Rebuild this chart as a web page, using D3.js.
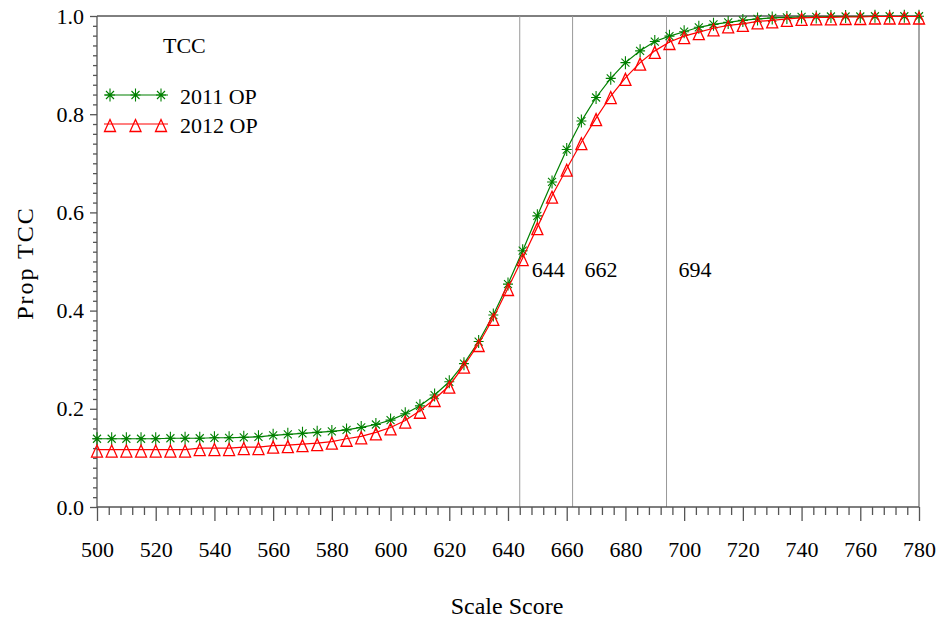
<!DOCTYPE html>
<html>
<head>
<meta charset="utf-8">
<script src="https://cdn.jsdelivr.net/npm/d3@7"></script>
<style>
  body { margin: 0; background: #fff; }
  svg text { font-family: "Liberation Serif", "Times New Roman", Times, "Nimbus Roman", "Nimbus Roman No9 L", "DejaVu Serif", "Noto Serif", serif; }
</style>
</head>
<body>
<svg id="chart" width="941" height="624"></svg>
<script>
// Scale scores (every 5 points)
const scores = d3.range(500, 781, 5);

// Proportion TCC
const op2011 = [
  0.139, 0.139, 0.139, 0.139, 0.139, 0.140, 0.140, 0.140, 0.141, 0.141,
  0.142, 0.143, 0.146, 0.148, 0.150, 0.152, 0.154, 0.157, 0.162, 0.168,
  0.177, 0.190, 0.206, 0.228, 0.255, 0.292, 0.337, 0.391, 0.454, 0.522,
  0.593, 0.662, 0.728, 0.786, 0.834, 0.873, 0.905, 0.929, 0.948, 0.959,
  0.968, 0.977, 0.983, 0.987, 0.991, 0.994, 0.996, 0.997, 0.998, 0.998,
  0.999, 0.999, 0.999, 0.9995, 0.9995, 0.9995, 0.9995
];
const op2012 = [
  0.117, 0.117, 0.117, 0.117, 0.117, 0.117, 0.117, 0.120, 0.120, 0.120,
  0.122, 0.122, 0.125, 0.126, 0.128, 0.130, 0.133, 0.139, 0.144, 0.152,
  0.162, 0.176, 0.196, 0.220, 0.247, 0.288, 0.332, 0.385, 0.446, 0.507,
  0.570, 0.634, 0.689, 0.743, 0.792, 0.837, 0.874, 0.905, 0.929, 0.947,
  0.959, 0.967, 0.975, 0.981, 0.984, 0.989, 0.991, 0.994, 0.996, 0.997,
  0.997, 0.998, 0.998, 0.999, 0.999, 0.999, 0.999
];

const cutScores = [644, 662, 694];
const xTicks = d3.range(500, 781, 20);
const yTicks = [0, 0.2, 0.4, 0.6, 0.8, 1.0];

const series = [
  { name: "2011 OP", values: op2011, color: "#008000", symbol: "star" },
  { name: "2012 OP", values: op2012, color: "#ff0000", symbol: "triangle" }
];

const svg = d3.select("#chart");

const x = d3.scaleLinear().domain([500, 780]).range([97, 919]);
const y = d3.scaleLinear().domain([0, 1]).range([507, 16]);

// frame: top black, right grey
svg.append("line")
  .attr("x1", x(500)).attr("x2", x(780))
  .attr("y1", y(1)).attr("y2", y(1))
  .attr("stroke", "#000").attr("stroke-width", 1);
svg.append("line")
  .attr("x1", x(780)).attr("x2", x(780))
  .attr("y1", y(1)).attr("y2", y(0))
  .attr("stroke", "#888").attr("stroke-width", 1.5);

// cut-score reference lines
svg.selectAll(".cut")
  .data(cutScores)
  .join("line")
  .attr("class", "cut")
  .attr("x1", d => x(d)).attr("x2", d => x(d))
  .attr("y1", y(1)).attr("y2", y(0))
  .attr("stroke", "#999").attr("stroke-width", 1);

svg.selectAll(".cutlabel")
  .data(cutScores)
  .join("text")
  .attr("class", "cutlabel")
  .attr("x", d => x(d) + 12)
  .attr("y", y(0.468))
  .attr("font-size", 22)
  .text(d => d);

// x axis with minor ticks every 4
const xAxis = svg.append("g").attr("transform", `translate(0,${y(0)})`);
xAxis.call(d3.axisBottom(x)
  .tickValues(d3.range(500, 781, 4).filter(v => v % 20 !== 0))
  .tickSize(8).tickFormat(""));
xAxis.call(g => g.select(".domain").remove());
const xMajor = svg.append("g").attr("transform", `translate(0,${y(0)})`);
xMajor.call(d3.axisBottom(x).tickValues(xTicks).tickSize(14).tickPadding(20)
  .tickFormat(d3.format("d")));
xMajor.attr("font-family", null);
xMajor.selectAll("text").attr("font-size", 22).attr("fill", "#000");
xMajor.select(".domain").attr("d", `M${x(500)},0H${x(780)}`);

// y axis with minor ticks every 0.02
const yMinor = svg.append("g").attr("transform", `translate(${x(500)},0)`);
yMinor.call(d3.axisLeft(y)
  .tickValues(d3.range(0, 51).map(i => i * 0.02).filter((v, i) => i % 10 !== 0))
  .tickSize(4).tickFormat(""));
yMinor.select(".domain").remove();
const yMajor = svg.append("g").attr("transform", `translate(${x(500)},0)`);
yMajor.call(d3.axisLeft(y).tickValues(yTicks).tickSize(7).tickPadding(6)
  .tickFormat(d3.format(".1f")));
yMajor.attr("font-family", null);
yMajor.selectAll("text").attr("font-size", 22).attr("fill", "#000");
yMajor.select(".domain").attr("d", `M0,${y(0)}V${y(1)}`);
svg.selectAll(".tick line, .domain").attr("stroke", "#555").attr("stroke-width", 1.3);

// axis titles
svg.append("text")
  .attr("x", 507).attr("y", 614)
  .attr("text-anchor", "middle")
  .attr("font-size", 24)
  .text("Scale Score");
svg.append("text")
  .attr("transform", "translate(33,263) rotate(-90)")
  .attr("text-anchor", "middle")
  .attr("font-size", 24)
  .attr("letter-spacing", 2)
  .text("Prop TCC");

// marker shapes
function drawMarker(g, type, color) {
  if (type === "star") {
    const p = "M-5,0H5M0,-6.5V6.5M-4,-4L4,4M-4,4L4,-4";
    g.append("path").attr("d", p).attr("stroke", color).attr("stroke-width", 1.1).attr("fill", "none");
  } else {
    g.append("path").attr("d", "M0,-4.5L5.5,7.5L-5.5,7.5Z")
      .attr("stroke", color).attr("stroke-width", 1.3).attr("fill", "none");
  }
}

const line = d3.line().x((d, i) => x(scores[i])).y(d => y(d));

series.forEach(s => {
  const g = svg.append("g");
  g.append("path")
    .datum(s.values)
    .attr("d", line)
    .attr("fill", "none")
    .attr("stroke", s.color)
    .attr("stroke-width", 1.2);
  g.selectAll(".m")
    .data(s.values)
    .join("g")
    .attr("class", "m")
    .attr("transform", (d, i) => `translate(${x(scores[i])},${y(d)})`)
    .each(function() { drawMarker(d3.select(this), s.symbol, s.color); });
});

// legend
svg.append("text").attr("x", 163).attr("y", 53).attr("font-size", 22).text("TCC");
const legend = svg.append("g");
series.forEach((s, i) => {
  const ly = 95 + i * 29;
  legend.append("line")
    .attr("x1", 104).attr("x2", 168).attr("y1", ly).attr("y2", ly)
    .attr("stroke", s.color).attr("stroke-width", 1.2);
  [110, 135.5, 161].forEach(mx => {
    drawMarker(legend.append("g").attr("transform", `translate(${mx},${ly})`), s.symbol, s.color);
  });
  legend.append("text")
    .attr("x", 180).attr("y", ly + 9)
    .attr("font-size", 22)
    .text(s.name);
});
</script>
</body>
</html>
